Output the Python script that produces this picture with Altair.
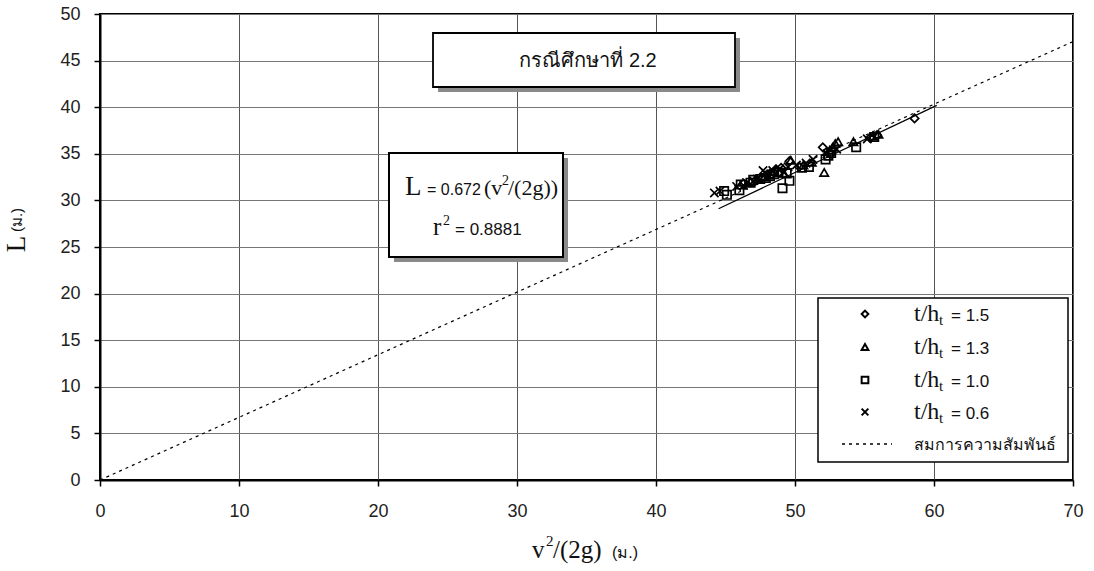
import altair as alt
import pandas as pd

# ---------------- data ----------------
x_15 = [46.3, 47.2, 47.6, 48.0, 48.6, 49.0, 49.6, 50.3, 52.0, 52.6, 55.4, 55.9, 58.6]
y_15 = [31.8, 32.2, 32.4, 32.8, 33.3, 33.5, 34.2, 33.6, 35.7, 35.0, 36.7, 37.0, 38.8]

x_13 = [46.8, 47.8, 48.5, 49.2, 49.7, 50.6, 51.2, 52.1, 52.5, 52.9, 53.1, 54.2, 55.6, 56.0, 48.2, 52.7]
y_13 = [32.0, 32.6, 33.1, 32.9, 34.3, 33.8, 34.1, 33.0, 35.4, 36.1, 36.3, 36.3, 36.9, 37.1, 32.8, 35.7]

x_10 = [44.9, 45.1, 46.0, 46.1, 46.8, 47.0, 47.5, 48.2, 48.8, 49.1, 49.6, 49.4, 50.5, 51.0, 52.2, 52.4, 54.4, 55.7, 47.9, 48.5, 52.6]
y_10 = [31.0, 30.6, 31.1, 31.7, 31.9, 32.2, 32.3, 32.6, 33.0, 31.3, 32.1, 32.9, 33.5, 33.6, 34.4, 34.8, 35.7, 36.8, 32.4, 32.8, 35.1]

x_06 = [44.2, 44.6, 45.8, 46.3, 46.5, 47.3, 47.7, 47.9, 48.4, 48.9, 49.5, 50.1, 50.8, 51.3, 52.3, 53.0, 55.2, 47.0, 48.1, 49.2]
y_06 = [30.8, 31.0, 31.5, 31.6, 31.9, 32.3, 33.2, 32.9, 33.2, 33.4, 33.6, 33.8, 34.0, 34.4, 35.0, 35.5, 36.6, 32.1, 32.7, 33.0]

series_names = ["t/h_t = 1.5", "t/h_t = 1.3", "t/h_t = 1.0", "t/h_t = 0.6"]
legend_values = ["= 1.5", "= 1.3", "= 1.0", "= 0.6"]

eq_x = [0, 70]
eq_y = [0, 0.672 * 70]          # L = 0.672 v^2/(2g)
fit_x = [44.5, 60.2]
fit_y = [29.1, 40.2]            # trend through the cluster

x_ticks = [0, 10, 20, 30, 40, 50, 60, 70]
y_ticks = [0, 5, 10, 15, 20, 25, 30, 35, 40, 45, 50]

title_text = "กรณีศึกษาที่ 2.2"
relation_text = "สมการความสัมพันธ์"
eq_coef = "= 0.672"
r2_text = "= 0.8881"

# ---------------- build tables ----------------
rows = []
for name, xs_, ys_ in zip(series_names, [x_15, x_13, x_10, x_06], [y_15, y_13, y_10, y_06]):
    for a, b in zip(xs_, ys_):
        rows.append({"x": a, "y": b, "series": name})
pts = pd.DataFrame(rows)

XPATH = "M-1,-1L1,1M-1,1L1,-1"
shape_range = ["diamond", "triangle-up", "square", XPATH]

xs = alt.Scale(domain=[0, 70], nice=False, zero=False)
ys = alt.Scale(domain=[0, 50], nice=False, zero=False)

points = alt.Chart(pts).mark_point(filled=False, color="black", strokeWidth=1.7, size=70, opacity=1).encode(
    x=alt.X("x:Q", scale=xs, axis=alt.Axis(values=x_ticks, title=None, grid=True, gridColor="#555",
                                            tickSize=6, labelPadding=16, labelFlush=False)),
    y=alt.Y("y:Q", scale=ys, axis=alt.Axis(values=y_ticks, title=None, grid=True, gridColor="#777",
                                            tickSize=6, labelPadding=14, labelFlush=False)),
    shape=alt.Shape("series:N", scale=alt.Scale(domain=series_names, range=shape_range), legend=None),
)

eq_df = pd.DataFrame({"x": eq_x, "y": eq_y})
eq_line = alt.Chart(eq_df).mark_line(color="black", strokeDash=[3, 4], strokeWidth=1.2).encode(
    x=alt.X("x:Q", scale=xs), y=alt.Y("y:Q", scale=ys))

fit_df = pd.DataFrame({"x": fit_x, "y": fit_y})
fit_line = alt.Chart(fit_df).mark_line(color="black", strokeWidth=1.2).encode(
    x=alt.X("x:Q", scale=xs), y=alt.Y("y:Q", scale=ys))

one = pd.DataFrame({"a": [0]})


def box(x1, y1, x2, y2, shadow=True, sw=1.8):
    layers = []
    if shadow:
        layers.append(alt.Chart(one).mark_rect(color="#8a8a8a").encode(
            x=alt.value(x1 + 5), x2=alt.value(x2 + 5), y=alt.value(y1 + 5), y2=alt.value(y2 + 5)))
    layers.append(alt.Chart(one).mark_rect(fill="white", stroke="black", strokeWidth=sw).encode(
        x=alt.value(x1), x2=alt.value(x2), y=alt.value(y1), y2=alt.value(y2)))
    return layers


def txt(s, x, y, size, font="Liberation Sans", align="left", baseline="alphabetic", angle=0):
    kw = dict(align=align, baseline=baseline, fontSize=size, font=font, color="#111")
    if angle:
        kw["angle"] = angle
    return alt.Chart(one).mark_text(**kw).encode(x=alt.value(x), y=alt.value(y), text=alt.value(s))


SERIF = "Liberation Serif"
layers = [points, eq_line, fit_line]

# title box
layers += box(333, 19, 635, 73)
layers.append(txt(title_text, 488, 47, 20, align="center", baseline="middle"))

# equation box
layers += box(289, 139, 463, 243, sw=2)
layers += [
    txt("L", 305, 181, 27, SERIF),
    txt(eq_coef, 327, 181, 16),
    txt("(v", 384, 181, 22, SERIF),
    txt("2", 402, 171, 14, SERIF),
    txt("/(2g))", 408, 181, 22, SERIF),
    txt("r", 333, 221, 25, SERIF),
    txt("2", 343, 211, 14, SERIF),
    txt(r2_text, 355, 221, 17),
]

# legend box
layers += box(718, 284, 968, 448, shadow=False, sw=1.5)
row_y = [300, 333, 366, 398, 430]
leg_df = pd.DataFrame({"series": series_names, "py": row_y[:4]})
layers.append(alt.Chart(leg_df).mark_point(filled=False, color="black", strokeWidth=2, size=45, opacity=1).encode(
    x=alt.value(765), y=alt.Y("py:Q", scale=None),
    shape=alt.Shape("series:N", scale=alt.Scale(domain=series_names, range=shape_range), legend=None)))
for ry, val in zip(row_y[:4], legend_values):
    layers += [
        txt("t/h", 814, ry + 7, 24, SERIF),
        txt("t", 839, ry + 11, 15, SERIF),
        txt(val, 851, ry + 7, 17),
    ]
layers.append(alt.Chart(one).mark_rule(color="black", strokeDash=[3, 4], strokeWidth=1.4).encode(
    x=alt.value(742), x2=alt.value(792), y=alt.value(row_y[4])))
layers.append(txt(relation_text, 814, row_y[4] + 6, 16))

# axis titles
layers += [
    txt("L", -83, 230, 27, SERIF, align="center", baseline="middle", angle=270),
    txt("(ม.)", -83, 206, 15, align="center", baseline="middle", angle=270),
    txt("v", 432, 544, 25, SERIF),
    txt("2", 446, 532, 15, SERIF),
    txt("/(2g)", 453, 544, 25, SERIF),
    txt("(ม.)", 512, 544, 16),
]

chart = alt.layer(*layers).properties(
    width=973, height=466,
    padding={"left": 100, "top": 14, "right": 21, "bottom": 91},
    autosize=alt.AutoSizeParams(type="none"),
    background="white",
).configure_view(stroke="black", strokeWidth=2).configure_axis(
    labelFont="Liberation Sans", labelFontSize=18, labelColor="#222",
    domainColor="black", domainWidth=2, tickColor="black", tickWidth=1.5, gridWidth=1,
)

chart.save("out.html", embed_options={"renderer": "svg", "actions": False})
